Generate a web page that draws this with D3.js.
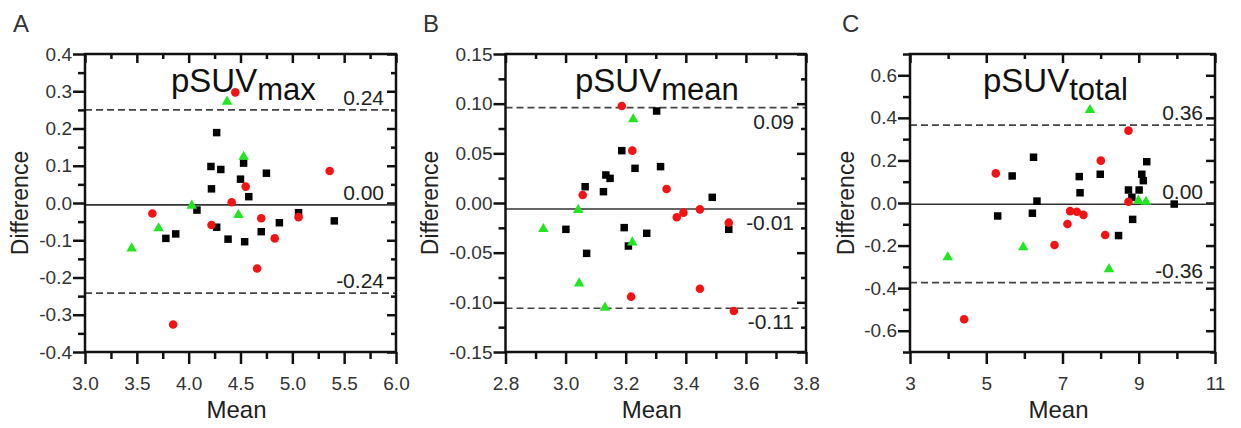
<!DOCTYPE html>
<html>
<head>
<meta charset="utf-8">
<script src="https://cdn.jsdelivr.net/npm/d3@7"></script>
<style>
    body { margin: 0; background: #fff; }
    svg text { font-family: "Liberation Sans", Arial, sans-serif; }
</style>
</head>
<body>
<svg id="chart" width="1241" height="428"></svg>
<script>
// ---- Panel A: pSUVmax ----
const maxRed = [[4.45, 0.297], [5.36, 0.086], [4.55, 0.044], [4.415, 0.002], [3.65, -0.028], [4.22, -0.059],
    [4.70, -0.041], [5.06, -0.038], [4.83, -0.095], [4.66, -0.176], [3.85, -0.326]];
const maxGreen = [[4.37, 0.272], [4.53, 0.124], [4.03, -0.007], [4.48, -0.032], [3.71, -0.068], [3.45, -0.122]];
const maxBlack = [[4.27, 0.189], [4.215, 0.098], [4.31, 0.090], [4.53, 0.107], [4.75, 0.080], [4.50, 0.064],
    [4.22, 0.038], [4.58, 0.017], [4.08, -0.019], [4.27, -0.065], [3.78, -0.095], [3.875, -0.083],
    [4.38, -0.097], [4.54, -0.104], [4.70, -0.077], [4.875, -0.053], [5.06, -0.026], [5.405, -0.048]];
const maxLines = [0.25, -0.005, -0.242];
const maxLineLabels = ['0.24', '0.00', '-0.24'];
const maxXTicks = [3.0, 3.5, 4.0, 4.5, 5.0, 5.5, 6.0];
const maxYTicks = [-0.4, -0.3, -0.2, -0.1, 0.0, 0.1, 0.2, 0.3, 0.4];

// ---- Panel B: pSUVmean ----
const meanRed = [[3.187, 0.0977], [3.222, 0.0527], [3.336, 0.0141], [3.057, 0.0081], [3.370, -0.0144],
    [3.392, -0.0097], [3.447, -0.0064], [3.543, -0.0198], [3.218, -0.0943], [3.447, -0.0863], [3.560, -0.1088]];
const meanGreen = [[3.225, 0.0843], [3.042, -0.007], [2.926, -0.0262], [3.222, -0.0396], [3.045, -0.0809], [3.131, -0.1054]];
const meanBlack = [[3.303, 0.0926], [3.187, 0.0527], [3.231, 0.0349], [3.316, 0.0366], [3.134, 0.0282],
    [3.148, 0.0248], [3.065, 0.0164], [3.126, 0.0114], [3.488, 0.0057], [3.001, -0.0265], [3.195, -0.0248],
    [3.270, -0.0305], [3.543, -0.0265], [3.209, -0.0433], [3.070, -0.0507]];
const meanLines = [0.096, -0.006, -0.106];
const meanLineLabels = ['0.09', '-0.01', '-0.11'];
const meanXTicks = [2.8, 3.0, 3.2, 3.4, 3.6, 3.8];
const meanYTicks = [-0.15, -0.10, -0.05, 0.0, 0.05, 0.10, 0.15];

// ---- Panel C: pSUVtotal ----
const totalRed = [[8.73, 0.340], [8.005, 0.199], [5.25, 0.139], [8.73, 0.006], [7.20, -0.038], [7.375, -0.041],
    [7.55, -0.056], [7.13, -0.099], [8.12, -0.150], [6.79, -0.197], [4.42, -0.546]];
const totalGreen = [[7.72, 0.437], [8.99, 0.011], [9.19, 0.006], [5.97, -0.208], [3.99, -0.255], [8.22, -0.311]];
const totalBlack = [[6.24, 0.215], [9.21, 0.194], [5.68, 0.127], [7.44, 0.124], [7.99, 0.135], [9.08, 0.135],
    [9.12, 0.105], [7.46, 0.048], [8.73, 0.061], [9.01, 0.061], [8.82, 0.027], [6.33, 0.009], [9.93, -0.005],
    [5.30, -0.061], [6.21, -0.048], [8.84, -0.077], [8.47, -0.153]];
const totalLines = [0.366, -0.006, -0.374];
const totalLineLabels = ['0.36', '0.00', '-0.36'];
const totalXTicks = [3, 5, 7, 9, 11];
const totalYTicks = [-0.6, -0.4, -0.2, 0.0, 0.2, 0.4, 0.6];

// Layout
const plotTop = 54, plotBottom = 352;
const colors = { red: '#f21414', green: '#22e622', black: '#000' };

const panels = [
    { letter: 'A', sub: 'max', left: 85, right: 396, xDomain: [3, 6], yDomain: [-0.4, 0.4],
      xTicks: maxXTicks, yTicks: maxYTicks, xMinor: 0.25, yMinor: 0.05, xFmt: d3.format('.1f'), yFmt: d3.format('.1f'),
      red: maxRed, green: maxGreen, black: maxBlack, lines: maxLines, lineLabels: maxLineLabels, below: false,
      letterX: 13, titleX: 171, diffX: 28 },
    { letter: 'B', sub: 'mean', left: 505.5, right: 806, xDomain: [2.8, 3.8], yDomain: [-0.15, 0.15],
      xTicks: meanXTicks, yTicks: meanYTicks, xMinor: 0.1, yMinor: 0.025, xFmt: d3.format('.1f'), yFmt: d3.format('.2f'),
      red: meanRed, green: meanGreen, black: meanBlack, lines: meanLines, lineLabels: meanLineLabels, below: true,
      letterX: 423, titleX: 575, diffX: 438 },
    { letter: 'C', sub: 'total', left: 910, right: 1215, xDomain: [3, 11], yDomain: [-0.7, 0.7],
      xTicks: totalXTicks, yTicks: totalYTicks, xMinor: 1, yMinor: 0.1, xFmt: d3.format('d'), yFmt: d3.format('.1f'),
      red: totalRed, green: totalGreen, black: totalBlack, lines: totalLines, lineLabels: totalLineLabels, below: false,
      letterX: 842, titleX: 983, diffX: 854 }
];

const svg = d3.select('#chart');

// hyphen instead of unicode minus
function fmt(f) {
    return d => f(d).replace('\u2212', '-');
}

function minorTicks(domain, step, majors) {
    const out = [];
    for (let v = domain[0]; v <= domain[1] + 1e-9; v += step) {
        const r = Math.round(v * 1e6) / 1e6;
        if (!majors.some(m => Math.abs(m - r) < 1e-6)) out.push(r);
    }
    return out;
}

function styleAxis(sel) {
    sel.select('.domain').remove();
    sel.selectAll('line').attr('stroke', '#111').attr('stroke-width', 2.5);
    sel.selectAll('text').attr('fill', '#333').attr('font-size', 19);
}

function drawPanel(p) {
    const g = svg.append('g');
    const x = d3.scaleLinear().domain(p.xDomain).range([p.left, p.right]);
    const y = d3.scaleLinear().domain(p.yDomain).range([plotBottom, plotTop]);
    const xMin = minorTicks(p.xDomain, p.xMinor, p.xTicks);
    const yMin = minorTicks(p.yDomain, p.yMinor, p.yTicks);

    // outer ticks with labels (bottom, left)
    g.append('g').attr('transform', `translate(0,${plotBottom})`)
        .call(d3.axisBottom(x).tickValues(p.xTicks).tickSize(12).tickPadding(13).tickFormat(fmt(p.xFmt)))
        .call(styleAxis);
    g.append('g').attr('transform', `translate(0,${plotBottom})`)
        .call(d3.axisBottom(x).tickValues(xMin).tickSize(7).tickFormat(''))
        .call(styleAxis);
    g.append('g').attr('transform', `translate(${p.left},0)`)
        .call(d3.axisLeft(y).tickValues(p.yTicks).tickSize(12).tickPadding(1).tickFormat(fmt(p.yFmt)))
        .call(styleAxis);
    g.append('g').attr('transform', `translate(${p.left},0)`)
        .call(d3.axisLeft(y).tickValues(yMin).tickSize(7).tickFormat(''))
        .call(styleAxis);

    // mirrored inner ticks (top, right)
    g.append('g').attr('transform', `translate(0,${plotTop})`)
        .call(d3.axisTop(x).tickValues(p.xTicks).tickSize(-9).tickFormat(''))
        .call(styleAxis);
    g.append('g').attr('transform', `translate(0,${plotTop})`)
        .call(d3.axisTop(x).tickValues(xMin).tickSize(-5).tickFormat(''))
        .call(styleAxis);
    g.append('g').attr('transform', `translate(${p.right},0)`)
        .call(d3.axisRight(y).tickValues(p.yTicks).tickSize(-9).tickFormat(''))
        .call(styleAxis);
    g.append('g').attr('transform', `translate(${p.right},0)`)
        .call(d3.axisRight(y).tickValues(yMin).tickSize(-5).tickFormat(''))
        .call(styleAxis);

    // reference lines: upper limit, mean, lower limit
    g.selectAll('.ref')
        .data(p.lines)
        .enter()
        .append('line')
        .attr('x1', p.left).attr('x2', p.right)
        .attr('y1', d => y(d)).attr('y2', d => y(d))
        .attr('stroke', (d, i) => i === 1 ? '#333' : '#444')
        .attr('stroke-width', 1.6)
        .attr('stroke-dasharray', (d, i) => i === 1 ? null : '7,4');

    g.selectAll('.ref-label')
        .data(p.lines)
        .enter()
        .append('text')
        .attr('x', p.right - 12)
        .attr('y', d => y(d) + (p.below ? 21 : -5))
        .attr('text-anchor', 'end')
        .attr('font-size', 21)
        .attr('fill', '#222')
        .text((d, i) => p.lineLabels[i]);

    // points
    const sym = d3.symbol();
    g.selectAll('.black')
        .data(p.black).enter().append('path')
        .attr('transform', d => `translate(${x(d[0])},${y(d[1])})`)
        .attr('d', sym.type(d3.symbolSquare).size(56)())
        .attr('fill', colors.black);
    g.selectAll('.red')
        .data(p.red).enter().append('path')
        .attr('transform', d => `translate(${x(d[0])},${y(d[1])})`)
        .attr('d', sym.type(d3.symbolCircle).size(58)())
        .attr('fill', colors.red);
    g.selectAll('.green')
        .data(p.green).enter().append('path')
        .attr('transform', d => `translate(${x(d[0])},${y(d[1])})`)
        .attr('d', sym.type(d3.symbolTriangle).size(48)())
        .attr('fill', colors.green);

    // frame
    g.append('rect')
        .attr('x', p.left).attr('y', plotTop)
        .attr('width', p.right - p.left).attr('height', plotBottom - plotTop)
        .attr('fill', 'none')
        .attr('stroke', '#111')
        .attr('stroke-width', 2.5);

    // title pSUV with subscript
    const t = g.append('text')
        .attr('x', p.titleX).attr('y', 92)
        .attr('font-size', 33)
        .attr('fill', '#111');
    t.append('tspan').text('pSUV');
    t.append('tspan').attr('dy', 8).attr('font-size', 31).text(p.sub);

    // panel letter
    g.append('text')
        .attr('x', p.letterX).attr('y', 32)
        .attr('font-size', 24)
        .attr('fill', '#333')
        .text(p.letter);

    // axis titles
    g.append('text')
        .attr('transform', `translate(${p.diffX},${(plotTop + plotBottom) / 2}) rotate(-90)`)
        .attr('text-anchor', 'middle')
        .attr('font-size', 23)
        .attr('fill', '#222')
        .text('Difference');
    g.append('text')
        .attr('x', (p.left + p.right) / 2 - 4)
        .attr('y', 418)
        .attr('text-anchor', 'middle')
        .attr('font-size', 24)
        .attr('fill', '#222')
        .text('Mean');
}

panels.forEach(drawPanel);
</script>
</body>
</html>
